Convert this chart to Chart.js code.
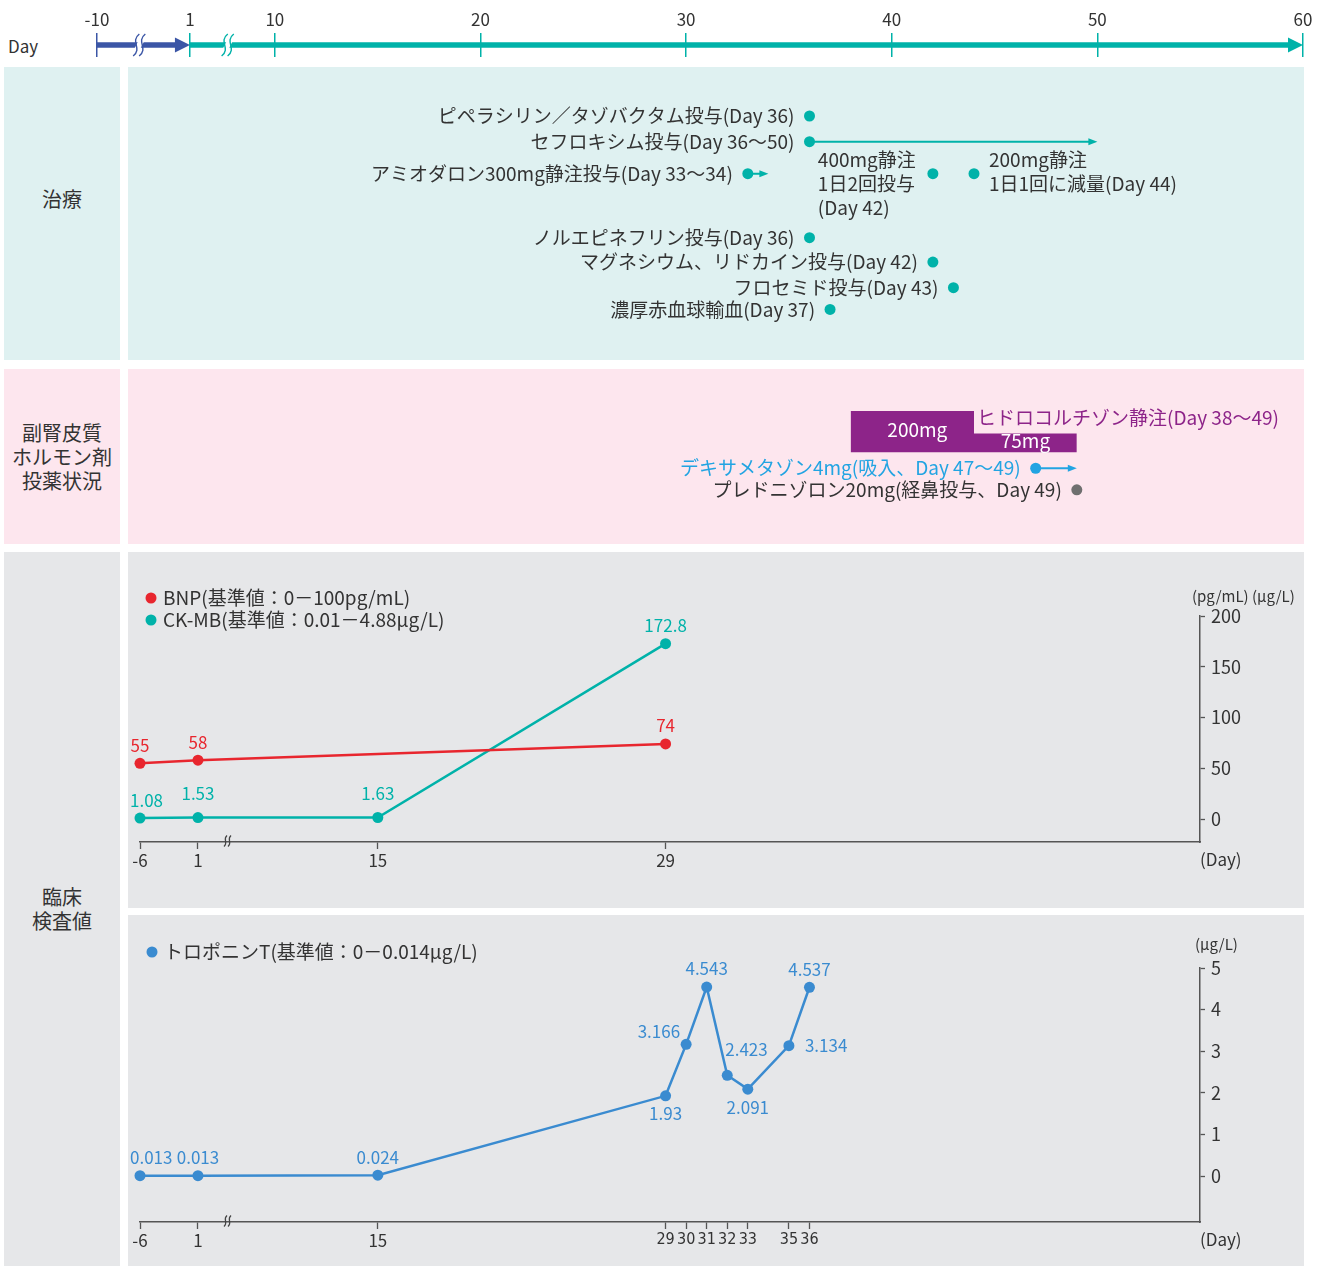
<!DOCTYPE html>
<html lang="ja">
<head>
<meta charset="utf-8">
<title>臨床経過</title>
<script src="https://cdn.jsdelivr.net/npm/chart.js@4.4.1/dist/chart.umd.min.js"></script>
<style>
  body { margin: 0; width: 1328px; height: 1266px; position: relative; overflow: hidden; background: #fff;
         font-family: 'Noto Sans CJK JP', 'Noto Sans', sans-serif; color: #333; }
  .box { position: absolute; }
  .side { display: flex; align-items: center; justify-content: center; text-align: center; font-size: 20px; line-height: 24px; }
  canvas { position: absolute; }
</style>
</head>
<body>
<div class="box" style="left:8px;top:33px;font-size:17px;">Day</div>

<div class="box side" style="left:4px;top:67px;width:116px;height:263px;padding-bottom:30px;background:#dff1f1">治療</div>
<div class="box" style="left:128px;top:67px;width:1176px;height:293px;background:#dff1f1"></div>

<div class="box side" style="left:4px;top:369px;width:116px;height:175px;background:#fde6ee">副腎皮質<br>ホルモン剤<br>投薬状況</div>
<div class="box" style="left:128px;top:369px;width:1176px;height:175px;background:#fde6ee"></div>

<div class="box side" style="left:4px;top:552px;width:116px;height:714px;background:#e6e7e9">臨床<br>検査値</div>
<div class="box" style="left:128px;top:552px;width:1176px;height:356px;background:#e6e7e9"></div>
<div class="box" style="left:128px;top:915px;width:1176px;height:351px;background:#e6e7e9"></div>

<canvas id="timeline" width="1328" height="67" style="left:0;top:0"></canvas>
<canvas id="treatment" width="1328" height="293" style="left:0;top:67px"></canvas>
<canvas id="steroid" width="1328" height="175" style="left:0;top:369px"></canvas>
<canvas id="lab1" width="1176" height="356" style="left:128px;top:552px"></canvas>
<canvas id="lab2" width="1176" height="351" style="left:128px;top:915px"></canvas>

<script>
// ---- データ ----
const timelineTicks = [-10, 1, 10, 20, 30, 40, 50, 60];
const timelineBreaks = [-5, 5];
const preStudyDays = [-10, 1];
const studyDays = [1, 60];

const treatmentNames = [
  'ピペラシリン／タゾバクタム投与(Day 36)',
  'セフロキシム投与(Day 36～50)',
  'アミオダロン300mg静注投与(Day 33～34)',
  'ノルエピネフリン投与(Day 36)',
  'マグネシウム、リドカイン投与(Day 42)',
  'フロセミド投与(Day 43)',
  '濃厚赤血球輸血(Day 37)'
];
const treatmentStart = [36, 36, 33, 36, 42, 43, 37];
const treatmentEnd = [null, 50, 34, null, null, null, null];
const treatmentRow = [0, 1, 2.25, 4.75, 5.7, 6.7, 7.55];
const amiodaroneDoseDays = [42, 44];
const amiodaroneDoseNotes = [['400mg静注', '1日2回投与', '(Day 42)'], ['200mg静注', '1日1回に減量(Day 44)']];

const hydrocortisoneName = 'ヒドロコルチゾン静注(Day 38～49)';
const hydrocortisoneStart = [38, 44];
const hydrocortisoneEnd = [44, 49];
const hydrocortisoneDose = [200, 75];
const steroidNames = ['デキサメタゾン4mg(吸入、Day 47～49)', 'プレドニゾロン20mg(経鼻投与、Day 49)'];
const steroidStart = [47, 49];
const steroidEnd = [49, null];
const steroidRow = [0, 1];

const bnpDays = [-6, 1, 29];
const bnpValues = [55, 58, 74];
const ckmbDays = [-6, 1, 15, 29];
const ckmbValues = [1.08, 1.53, 1.63, 172.8];
const lab1DayTicks = [-6, 1, 15, 29];
const lab1ValueTicks = [0, 50, 100, 150, 200];

const tropDays = [-6, 1, 15, 29, 30, 31, 32, 33, 35, 36];
const tropValues = [0.013, 0.013, 0.024, 1.93, 3.166, 4.543, 2.423, 2.091, 3.134, 4.537];
const lab2DayTicks = [-6, 1, 15, 29, 30, 31, 32, 33, 35, 36];
const lab2ValueTicks = [0, 1, 2, 3, 4, 5];
const labBreak = 3.3;

// ---- 色・フォント ----
const FONT = "'Noto Sans CJK JP', 'Noto Sans', sans-serif";
const NARROW = "'Liberation Sans Narrow', 'DejaVu Sans Condensed', 'Roboto Condensed', sans-serif";
const TEAL = '#00b2a9', BLUE = '#3b56a6', RED = '#e8262e', TROP = '#3a8bd0';
const PURPLE = '#8d2489', DEX = '#22a4e2', GRAY = '#6f6f6f', INK = '#333333';
const doseFloor = -30;

Chart.defaults.font.family = FONT;
Chart.defaults.color = INK;
Chart.defaults.animation = false;
Chart.defaults.events = [];
Chart.defaults.plugins.legend.display = false;
Chart.defaults.plugins.tooltip.enabled = false;

// 省略記号のある日付軸（区間ごとに幅を詰める）
function brokenDayScale(id, segs) {
  class BrokenDayScale extends Chart.LinearScale {
    warp(v) {
      if (v <= segs[0].from) return v - segs[0].from;
      let acc = 0;
      for (const s of segs) {
        if (v <= s.to) return acc + (v - s.from) / (s.to - s.from) * s.span;
        acc += s.span;
      }
      return acc + v - segs[segs.length - 1].to;
    }
    getPixelForValue(value) {
      if (value === null || value === undefined || isNaN(value)) return NaN;
      const a = this.warp(this.min), b = this.warp(this.max);
      return this.getPixelForDecimal((this.warp(value) - a) / (b - a));
    }
  }
  BrokenDayScale.id = id;
  BrokenDayScale.defaults = Chart.LinearScale.defaults;
  Chart.register(BrokenDayScale);
}
brokenDayScale('timelineDays', [{from: -10, to: 1, span: 4.52}, {from: 1, to: 10, span: 4.13}]);
brokenDayScale('labDays', [{from: -6, to: 1, span: 2.82}, {from: 1, to: 15, span: 8.75}]);

const fixedTicks = arr => s => { s.ticks = arr.map(v => ({value: v})); };

// 矢印
const arrowPlugin = {
  id: 'arrowHeads',
  beforeDatasetDraw(chart, args) {
    const ds = chart.data.datasets[args.index];
    if (!ds.arrowHead) return;
    const pts = args.meta.data, b = pts[pts.length - 1];
    const ctx = chart.ctx, L = ds.arrowHead.length;
    ctx.save();
    ctx.beginPath();
    ctx.rect(0, 0, chart.width, chart.height);
    ctx.rect(b.x - L + 1, b.y - 20, L + 20, 40);
    ctx.clip('evenodd');
  },
  afterDatasetDraw(chart, args) {
    const ds = chart.data.datasets[args.index];
    if (!ds.arrowHead) return;
    const ctx = chart.ctx;
    ctx.restore();
    const pts = args.meta.data, a = pts[pts.length - 2], b = pts[pts.length - 1];
    const L = ds.arrowHead.length, W = ds.arrowHead.width;
    ctx.save();
    ctx.translate(b.x, b.y);
    ctx.rotate(Math.atan2(b.y - a.y, b.x - a.x));
    ctx.fillStyle = ds.borderColor;
    ctx.beginPath();
    ctx.moveTo(0, 0); ctx.lineTo(-L, -W / 2); ctx.lineTo(-L, W / 2); ctx.closePath();
    ctx.fill();
    ctx.restore();
  }
};

// 点の注記
const notesPlugin = {
  id: 'notes',
  afterDatasetsDraw(chart) {
    const ctx = chart.ctx;
    chart.data.datasets.forEach((ds, i) => {
      if (!ds.notes) return;
      const meta = chart.getDatasetMeta(i);
      ctx.save();
      ctx.font = `${ds.noteSize || 17}px ${FONT}`;
      ctx.textBaseline = 'middle';
      meta.data.forEach((pt, j) => {
        const note = ds.notes[j];
        if (!note) return;
        const lines = Array.isArray(note) ? note : [note];
        const place = (ds.notePlace && ds.notePlace[j]) || 'top';
        let x = pt.x, y = pt.y, align = 'center';
        switch (place) {
          case 'left': x -= 15; align = 'right'; break;
          case 'right': x += 16; align = 'left'; break;
          case 'top': y -= 18; break;
          case 'topHigh': y -= 24; break;
          case 'bottom': y += 18; break;
          case 'leftTop': x -= 6; y -= 13; align = 'right'; break;
          case 'rightTop': x -= 2; y -= 26; align = 'left'; break;
          case 'blockLeft': x -= 115; y -= 14; align = 'left'; break;
          case 'blockRight': x += 15; y -= 14; align = 'left'; break;
        }
        ctx.fillStyle = Array.isArray(ds.noteColor) ? ds.noteColor[j] : (ds.noteColor || INK);
        ctx.textAlign = align;
        lines.forEach((line, k) => {
          let tx = x;
          if (align === 'center') tx = Math.max(tx, ctx.measureText(line).width / 2 + 2);
          ctx.fillText(line, tx, y + k * 24);
        });
      });
      ctx.restore();
    });
  }
};

function sCurve(ctx, x, y, h) {
  ctx.beginPath();
  ctx.moveTo(x + h * 0.14, y - h / 2);
  ctx.bezierCurveTo(x - h * 0.3, y - h * 0.15, x + h * 0.3, y + h * 0.15, x - h * 0.14, y + h / 2);
  ctx.stroke();
}

// ---- 上部の日付軸 ----
new Chart(document.getElementById('timeline'), {
  type: 'line',
  data: {
    datasets: [
      { data: preStudyDays.map(d => ({x: d, y: 0})), borderColor: BLUE, borderWidth: 5.5, pointRadius: 0, clip: false, arrowHead: {length: 15, width: 15} },
      { data: studyDays.map(d => ({x: d, y: 0})), borderColor: TEAL, borderWidth: 5.5, pointRadius: 0, clip: false, arrowHead: {length: 15, width: 15} }
    ]
  },
  options: {
    responsive: false,
    layout: { padding: { left: 97, right: 25, top: 0, bottom: 10 } },
    scales: {
      x: {
        type: 'timelineDays', position: 'top', min: -10, max: 60,
        afterBuildTicks: fixedTicks(timelineTicks),
        afterFit: s => { s.height = 33; },
        grid: { drawTicks: false, lineWidth: 1.5, color: c => (c.tick && c.tick.value < 1) ? BLUE : TEAL },
        border: { display: false },
        ticks: { autoSkip: false, maxRotation: 0, padding: 3, font: { size: 17 }, color: INK, callback: v => String(v) }
      },
      y: { display: false, min: -1, max: 1 }
    }
  },
  plugins: [arrowPlugin, {
    id: 'timelineBreaks',
    afterDatasetsDraw(chart) {
      const ctx = chart.ctx, xs = chart.scales.x, y = chart.scales.y.getPixelForValue(0);
      timelineBreaks.forEach(v => {
        const x = xs.getPixelForValue(v);
        ctx.save();
        ctx.fillStyle = '#ffffff';
        ctx.beginPath();
        ctx.moveTo(x - 1, y - 4); ctx.lineTo(x + 5, y - 4); ctx.lineTo(x + 1, y + 4); ctx.lineTo(x - 5, y + 4);
        ctx.closePath(); ctx.fill();
        ctx.strokeStyle = v < 1 ? BLUE : TEAL;
        ctx.lineWidth = 1.4;
        sCurve(ctx, x - 3, y, 22);
        sCurve(ctx, x + 3, y, 22);
        ctx.restore();
      });
    }
  }]
});

// ---- 治療 ----
const treatmentArrows = treatmentStart.map((d, i) => treatmentEnd[i] === null ? null : {
  data: [{x: d, y: treatmentRow[i]}, {x: treatmentEnd[i], y: treatmentRow[i]}],
  borderColor: TEAL, borderWidth: 2, pointRadius: 0, clip: false, arrowHead: {length: 9, width: 7}
}).filter(Boolean);
const amioRow = treatmentRow[2];

new Chart(document.getElementById('treatment'), {
  type: 'scatter',
  data: {
    datasets: [
      {
        data: treatmentStart.map((d, i) => ({x: d, y: treatmentRow[i]})),
        pointRadius: 5.5, pointBackgroundColor: TEAL, pointBorderWidth: 0, clip: false,
        notes: treatmentNames, notePlace: treatmentNames.map(() => 'left'), noteSize: 19
      },
      {
        data: amiodaroneDoseDays.map(d => ({x: d, y: amioRow})),
        pointRadius: 5.5, pointBackgroundColor: TEAL, pointBorderWidth: 0, clip: false,
        notes: amiodaroneDoseNotes, notePlace: ['blockLeft', 'blockRight'], noteSize: 19
      },
      ...treatmentArrows.map(a => Object.assign({type: 'line'}, a))
    ]
  },
  options: {
    responsive: false,
    layout: { padding: { left: 97, right: 25, top: 49, bottom: 39 } },
    scales: {
      x: { type: 'timelineDays', display: false, min: -10, max: 60 },
      y: { type: 'linear', display: false, reverse: true, min: 0, max: 8 }
    }
  },
  plugins: [arrowPlugin, notesPlugin]
});

// ---- 副腎皮質ホルモン剤 ----
const hydroPoints = [];
hydrocortisoneDose.forEach((d, k) => {
  hydroPoints.push({x: hydrocortisoneStart[k], y: d}, {x: hydrocortisoneEnd[k], y: d});
});

new Chart(document.getElementById('steroid'), {
  type: 'scatter',
  data: {
    datasets: [
      {
        data: steroidStart.map((d, i) => ({x: d, y: steroidRow[i]})), yAxisID: 'yLane',
        pointRadius: 5.5, pointBackgroundColor: [DEX, GRAY], pointBorderWidth: 0, clip: false,
        notes: steroidNames, notePlace: ['left', 'left'], noteColor: [DEX, INK], noteSize: 19
      },
      ...steroidStart.map((d, i) => steroidEnd[i] === null ? null : {
        type: 'line', yAxisID: 'yLane',
        data: [{x: d, y: steroidRow[i]}, {x: steroidEnd[i], y: steroidRow[i]}],
        borderColor: DEX, borderWidth: 2, pointRadius: 0, clip: false, arrowHead: {length: 9, width: 7}
      }).filter(Boolean),
      {
        type: 'line', yAxisID: 'yDose', data: hydroPoints,
        borderWidth: 0, borderColor: 'rgba(0,0,0,0)', pointRadius: 0, clip: false,
        backgroundColor: PURPLE, fill: { value: doseFloor }
      }
    ]
  },
  options: {
    responsive: false,
    layout: { padding: { left: 97, right: 25, top: 0, bottom: 0 } },
    scales: {
      x: { type: 'timelineDays', display: false, min: -10, max: 60 },
      yDose: { type: 'linear', display: false, min: -511, max: 404 },
      yLane: { type: 'linear', display: false, reverse: true, min: -4.35, max: 3.26 }
    }
  },
  plugins: [arrowPlugin, notesPlugin, {
    id: 'hydroLabels',
    afterDatasetsDraw(chart) {
      const ctx = chart.ctx, xs = chart.scales.x, yd = chart.scales.yDose;
      ctx.save();
      ctx.textBaseline = 'middle';
      ctx.fillStyle = '#ffffff';
      ctx.textAlign = 'center';
      ctx.font = `19px ${FONT}`;
      hydrocortisoneDose.forEach((d, k) => {
        const cx = (xs.getPixelForValue(hydrocortisoneStart[k]) + xs.getPixelForValue(hydrocortisoneEnd[k])) / 2;
        const cy = (yd.getPixelForValue(d) + yd.getPixelForValue(doseFloor)) / 2;
        ctx.fillText(d + 'mg', cx + (k === 0 ? 5 : 0), cy - 2);
      });
      ctx.fillStyle = PURPLE;
      ctx.textAlign = 'left';
      ctx.font = `19px ${FONT}`;
      ctx.fillText(hydrocortisoneName, xs.getPixelForValue(hydrocortisoneEnd[0]) + 3, yd.getPixelForValue(hydrocortisoneDose[0]) + 7);
      ctx.restore();
    }
  }]
});

// ---- 臨床検査値 ----
function labDecor(legend, units, dayY) {
  return {
    id: 'labDecor',
    afterDraw(chart) {
      const ctx = chart.ctx, xs = chart.scales.x;
      ctx.save();
      ctx.textBaseline = 'middle';
      ctx.textAlign = 'left';
      ctx.font = `19px ${FONT}`;
      legend.items.forEach((it, k) => {
        const y = legend.y + k * 22;
        ctx.fillStyle = it.color;
        ctx.beginPath(); ctx.arc(legend.x, y, 5.5, 0, Math.PI * 2); ctx.fill();
        ctx.fillStyle = INK;
        ctx.fillText(it.text, legend.x + 12, y);
      });
      ctx.font = `15px ${FONT}`;
      ctx.fillText(units.text, units.x, units.y);
      ctx.font = `17px ${FONT}`;
      ctx.fillText('(Day)', chart.chartArea.right, dayY);
      // 省略記号
      const bx = xs.getPixelForValue(labBreak), by = chart.chartArea.bottom - 1;
      ctx.strokeStyle = '#444';
      ctx.lineWidth = 1.2;
      sCurve(ctx, bx - 2, by, 11);
      sCurve(ctx, bx + 2, by, 11);
      ctx.restore();
    }
  };
}

function labAxes(dayTicks, valueTicks, yMin, yMax, xHeight, tickFont) {
  return {
    x: {
      type: 'labDays', min: -6, max: 55,
      afterBuildTicks: fixedTicks(dayTicks),
      afterFit: s => { s.height = xHeight; },
      grid: { drawOnChartArea: false, drawTicks: true, tickLength: 7, tickColor: '#555', tickWidth: 1.3 },
      border: { display: true, color: '#555', width: 1.5 },
      ticks: { autoSkip: false, maxRotation: 0, padding: 1, color: INK, font: tickFont, callback: v => String(v) }
    },
    y: {
      type: 'linear', position: 'right', min: yMin, max: yMax,
      afterBuildTicks: fixedTicks(valueTicks),
      afterFit: s => { s.width = 104; },
      grid: { drawOnChartArea: false, drawTicks: true, tickLength: 5, tickColor: '#555', tickWidth: 1.3 },
      border: { display: true, color: '#555', width: 1.5 },
      ticks: { padding: 6, color: INK, font: { size: 18 }, callback: v => String(v) }
    }
  };
}

const lineSeries = (days, values, color, places) => ({
  type: 'line',
  data: days.map((d, i) => ({x: d, y: values[i]})),
  borderColor: color, borderWidth: 2.5, pointRadius: 5.5, pointBackgroundColor: color, pointBorderWidth: 0,
  clip: false, notes: values.map(String), notePlace: places, noteColor: color, noteSize: 17
});

new Chart(document.getElementById('lab1'), {
  type: 'line',
  data: {
    datasets: [
      lineSeries(bnpDays, bnpValues, RED, ['top', 'top', 'top']),
      lineSeries(ckmbDays, ckmbValues, TEAL, ['top', 'topHigh', 'topHigh', 'top'])
    ]
  },
  options: {
    responsive: false,
    layout: { padding: { left: 12, right: 0, top: 64, bottom: 0 } },
    scales: labAxes(lab1DayTicks, lab1ValueTicks, -22.5, 200, 66, { size: 17 })
  },
  plugins: [notesPlugin, labDecor(
    { x: 23, y: 46, items: [{ color: RED, text: 'BNP(基準値：0－100pg/mL)' }, { color: TEAL, text: 'CK-MB(基準値：0.01－4.88μg/L)' }] },
    { x: 1064, y: 44, text: '(pg/mL) (μg/L)' }, 308)]
});

new Chart(document.getElementById('lab2'), {
  type: 'line',
  data: {
    datasets: [
      lineSeries(tropDays, tropValues, TROP, ['top', 'top', 'top', 'bottom', 'leftTop', 'top', 'rightTop', 'bottom', 'right', 'top'])
    ]
  },
  options: {
    responsive: false,
    layout: { padding: { left: 12, right: 0, top: 53, bottom: 0 } },
    scales: labAxes(lab2DayTicks, lab2ValueTicks, -1.1, 5, 44,
      c => (c.tick && c.tick.value >= 29) ? { family: NARROW, size: 16 } : { size: 17 })
  },
  plugins: [notesPlugin, labDecor(
    { x: 24, y: 37, items: [{ color: TROP, text: 'トロポニンT(基準値：0－0.014μg/L)' }] },
    { x: 1067, y: 29, text: '(μg/L)' }, 325)]
});
</script>
</body>
</html>
